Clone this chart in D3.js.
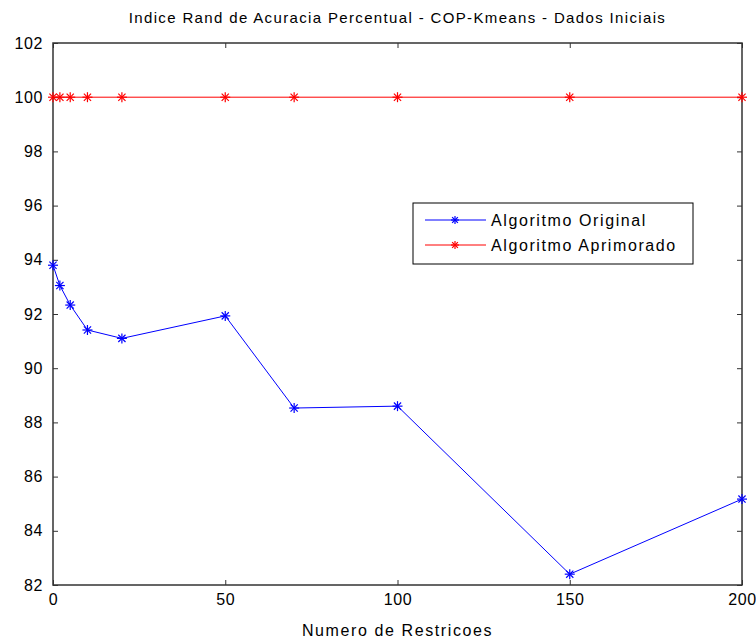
<!DOCTYPE html>
<html>
<head>
<meta charset="utf-8">
<script src="https://cdn.jsdelivr.net/npm/d3@7"></script>
<style>
  body { margin: 0; background: #fff; }
  text { font-family: "Liberation Sans", Arial, sans-serif; fill: #000; }
</style>
</head>
<body>
<div id="chart"></div>
<script>
const width = 756, height = 639;
const margin = {top: 43, right: 14, bottom: 54, left: 53};

// data
const restricoes = [0, 2, 5, 10, 20, 50, 70, 100, 150, 200];
const original = [93.8, 93.05, 92.33, 91.41, 91.1, 91.93, 88.53, 88.6, 82.4, 85.17];
const aprimorado = [100, 100, 100, 100, 100, 100, 100, 100, 100, 100];
const xTicks = [0, 50, 100, 150, 200];
const yTicks = [82, 84, 86, 88, 90, 92, 94, 96, 98, 100, 102];
const seriesNames = ["Algoritmo Original", "Algoritmo Aprimorado"];
const seriesColors = ["#0000ff", "#ff0000"];

const svg = d3.select("#chart").append("svg")
    .attr("width", width)
    .attr("height", height)
    .style("background", "#fff");

const x = d3.scaleLinear().domain([0, 200]).range([margin.left, width - margin.right]);
const y = d3.scaleLinear().domain([82, 102]).range([height - margin.bottom, margin.top]);

const x0 = x.range()[0], x1 = x.range()[1];
const y0 = y.range()[0], y1 = y.range()[1];

// axes with inward ticks (box style)
svg.append("g")
    .attr("transform", `translate(0,${y0})`)
    .call(d3.axisBottom(x).tickValues(xTicks).tickSizeInner(-5).tickSizeOuter(0).tickPadding(9))
    .call(g => g.select(".domain").remove());
svg.append("g")
    .attr("transform", `translate(0,${y1})`)
    .call(d3.axisTop(x).tickValues(xTicks).tickSizeInner(-5).tickSizeOuter(0).tickFormat(""))
    .call(g => g.select(".domain").remove());
svg.append("g")
    .attr("transform", `translate(${x0},0)`)
    .call(d3.axisLeft(y).tickValues(yTicks).tickSizeInner(-5).tickSizeOuter(0).tickPadding(10))
    .call(g => g.select(".domain").remove());
svg.append("g")
    .attr("transform", `translate(${x1},0)`)
    .call(d3.axisRight(y).tickValues(yTicks).tickSizeInner(-5).tickSizeOuter(0).tickFormat(""))
    .call(g => g.select(".domain").remove());

svg.selectAll(".tick text")
    .style("font-size", "16px")
    .style("letter-spacing", "0.6px")
    .style("font-family", "Liberation Sans, Arial, sans-serif");
svg.selectAll(".tick line").attr("stroke", "#333");

svg.append("rect")
    .attr("x", x0).attr("y", y1)
    .attr("width", x1 - x0).attr("height", y0 - y1)
    .attr("fill", "none").attr("stroke", "#333").attr("stroke-width", 1.5);

// asterisk marker
function star(g, cx, cy, color, r) {
  const s = g.append("g").attr("transform", `translate(${cx},${cy})`)
      .attr("stroke", color).attr("stroke-width", 1.2);
  s.append("line").attr("x1", -r).attr("x2", r).attr("y1", 0).attr("y2", 0);
  s.append("line").attr("x1", 0).attr("x2", 0).attr("y1", -r).attr("y2", r);
  const d = r * 0.72;
  s.append("line").attr("x1", -d).attr("x2", d).attr("y1", -d).attr("y2", d);
  s.append("line").attr("x1", -d).attr("x2", d).attr("y1", d).attr("y2", -d);
}

const line = d3.line().x(d => x(d[0])).y(d => y(d[1]));
const series = [original, aprimorado];

series.forEach((vals, i) => {
  const pts = restricoes.map((r, j) => [r, vals[j]]);
  svg.append("path")
      .datum(pts)
      .attr("d", line)
      .attr("fill", "none")
      .attr("stroke", seriesColors[i])
      .attr("stroke-width", 1);
  const g = svg.append("g");
  pts.forEach(p => star(g, x(p[0]), y(p[1]), seriesColors[i], 5));
});

// legend
const lg = svg.append("g").attr("transform", "translate(413,203)");
lg.append("rect").attr("width", 280).attr("height", 61)
    .attr("fill", "#fff").attr("stroke", "#000").attr("stroke-width", 1);
seriesNames.forEach((name, i) => {
  const ly = 17 + i * 25;
  lg.append("line").attr("x1", 12).attr("x2", 73).attr("y1", ly).attr("y2", ly)
      .attr("stroke", seriesColors[i]).attr("stroke-width", 1);
  star(lg, 42, ly, seriesColors[i], 4);
  lg.append("text").attr("x", 78).attr("y", ly + 6)
      .style("font-size", "16px").style("letter-spacing", "1.6px").text(name);
});

// title and label
svg.append("text")
    .attr("x", (x0 + x1) / 2).attr("y", 23)
    .attr("text-anchor", "middle")
    .style("font-size", "15px")
    .style("letter-spacing", "1.35px")
    .text("Indice Rand de Acuracia Percentual - COP-Kmeans - Dados Iniciais");

svg.append("text")
    .attr("x", (x0 + x1) / 2).attr("y", 636)
    .attr("text-anchor", "middle")
    .style("font-size", "16px")
    .style("letter-spacing", "1.6px")
    .text("Numero de Restricoes");
</script>
</body>
</html>
